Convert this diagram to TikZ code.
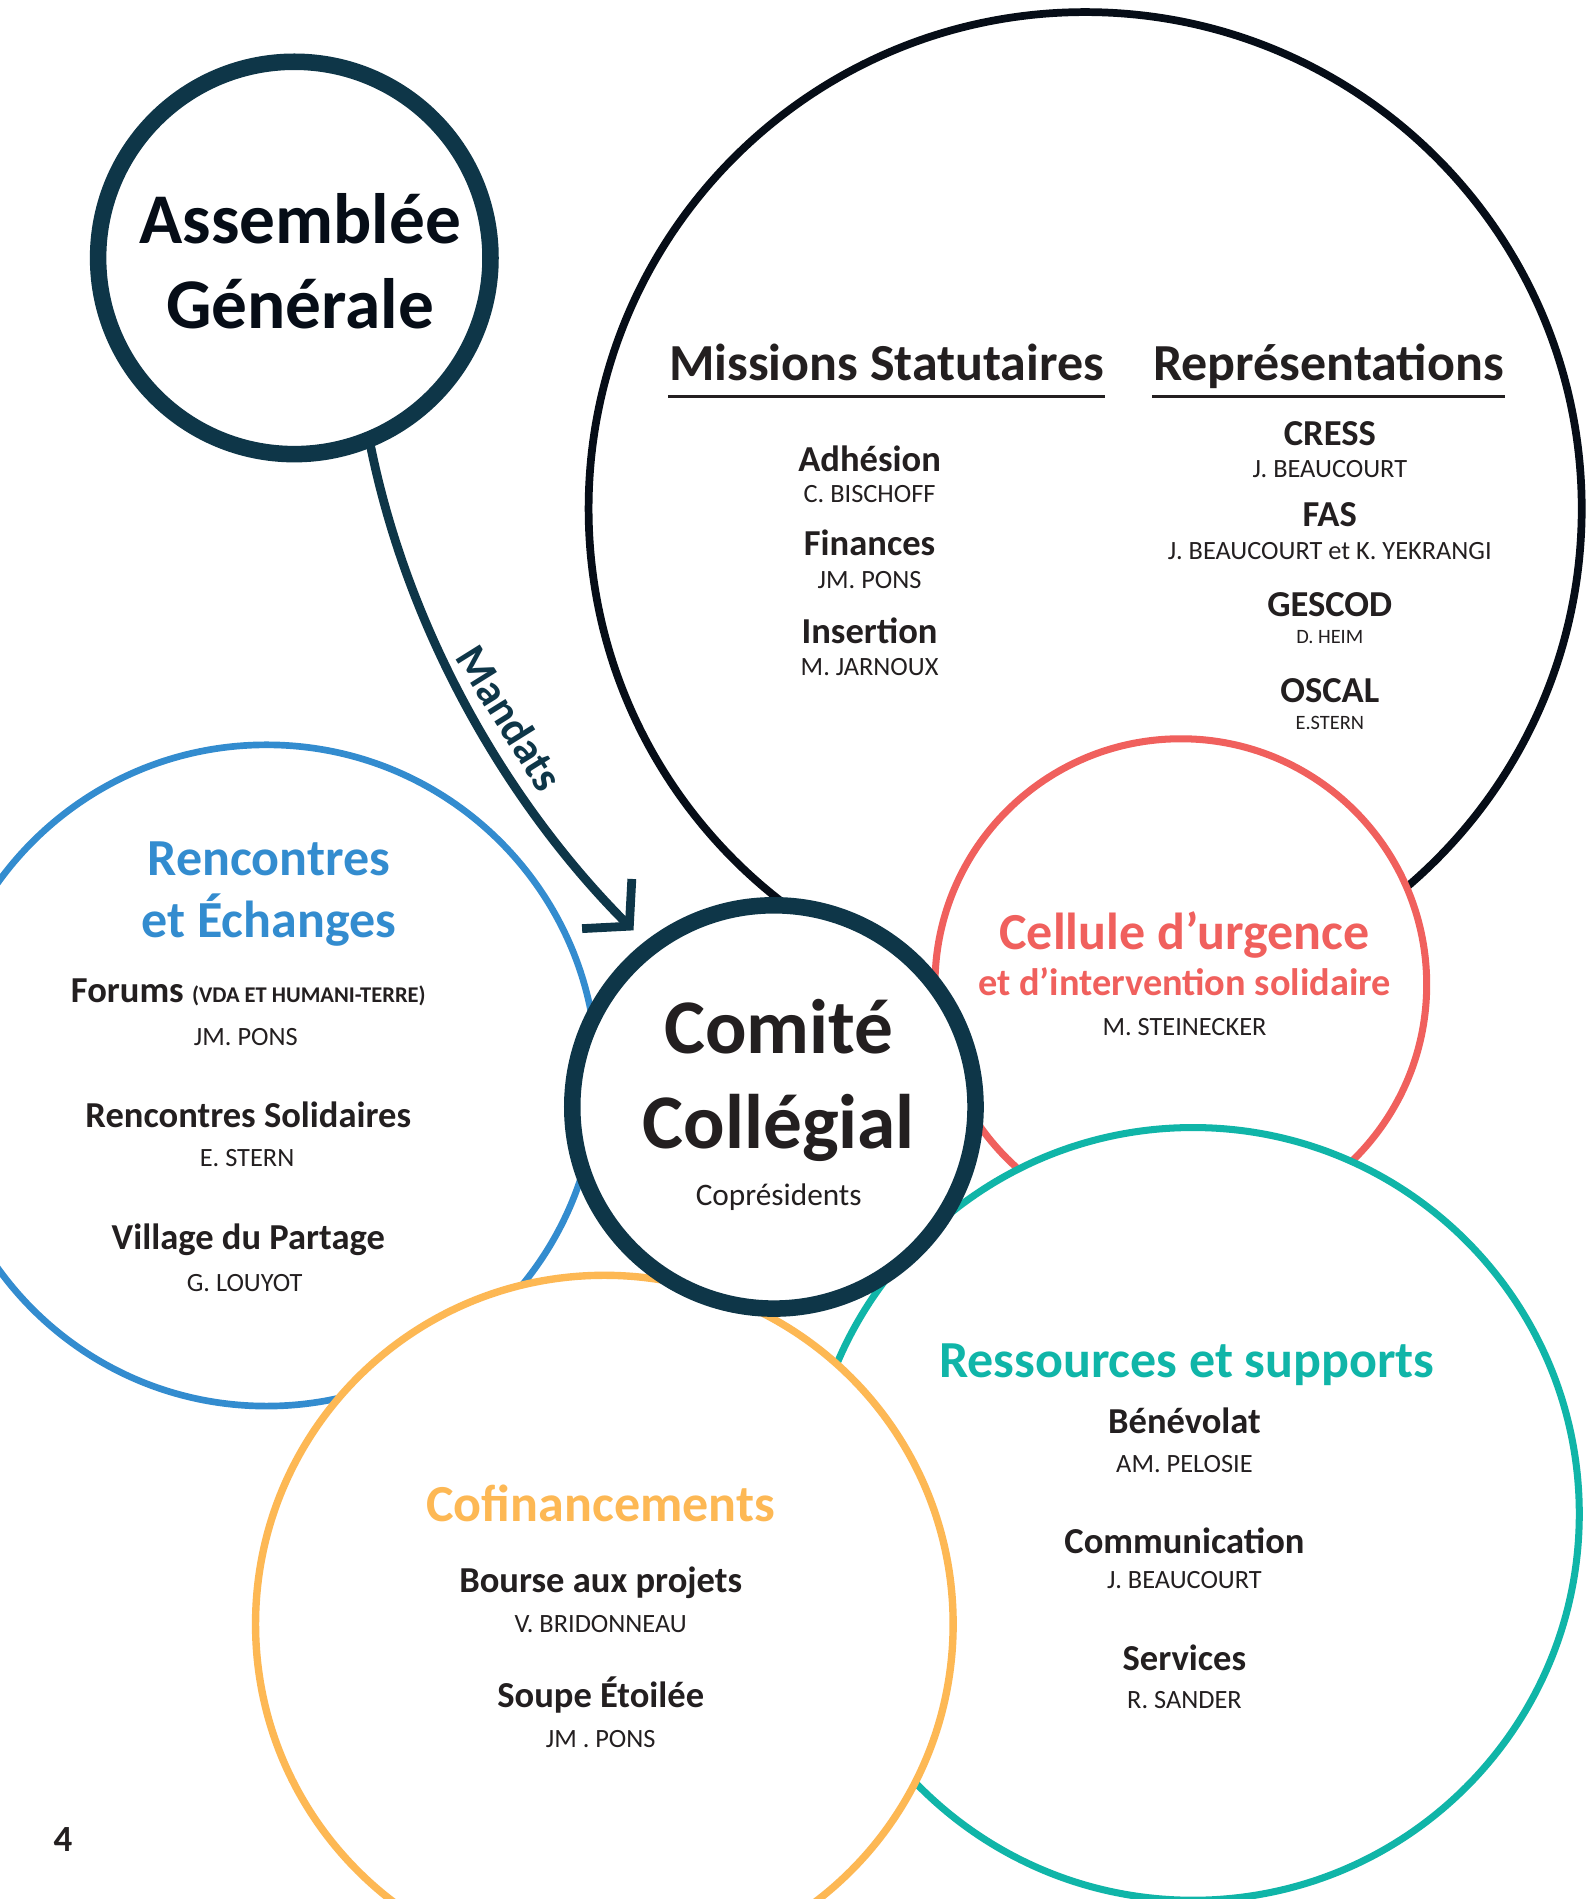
\documentclass[tikz,border=0pt]{standalone}
\usepackage{fontspec}
\setmainfont{Carlito}
\usetikzlibrary{arrows.meta}
\newdimen\upx
\upx=0.12113mm
\definecolor{marine}{HTML}{0E3648}
\definecolor{encre}{HTML}{231F20}
\definecolor{noir}{HTML}{060D17}
\definecolor{bleu}{HTML}{338CCF}
\definecolor{rouge}{HTML}{F0605D}
\definecolor{turquoise}{HTML}{10B5A8}
\definecolor{jaune}{HTML}{FDB854}
\tikzset{
  cercle/.style={circle, draw, fill=white, inner sep=0pt},
  titre/.style={anchor=base, inner sep=0pt, text=encre, font=\bfseries\fontsize{14.8}{18}\selectfont},
  rubrique/.style={anchor=base, inner sep=0pt, text=encre, font=\bfseries\fontsize{10.4}{12}\selectfont},
  nom/.style={anchor=base, inner sep=0pt, text=encre, font=\fontsize{7.5}{9}\selectfont},
  petitnom/.style={nom, font=\fontsize{5.8}{7}\selectfont},
  souligne/.style={encre, line width=0.9pt},
}
\begin{document}
\begin{tikzpicture}[x=0.12113mm, y=-0.12113mm]
		\useasboundingbox (0,0) rectangle (1311,1568);
		\fill[white] (0,0) rectangle (1311,1568);
		\clip (0,0) rectangle (1311,1568);
		% cercles
		\node[cercle, draw=noir, line width=2.2pt, minimum size=820\upx] (statut) at (896,420) {};
		\node[cercle, draw=rouge, line width=2pt, minimum size=406\upx] (urgence) at (975,813) {};
		\node[cercle, draw=turquoise, line width=2pt, minimum size=638\upx] (ressources) at (985,1250) {};
		\node[cercle, draw=bleu, line width=1.9pt, minimum size=546\upx] (rencontres) at (220,888) {};
		\node[cercle, draw=jaune, line width=2.1pt, minimum size=576\upx] (cofin) at (499,1341) {};
		\node[cercle, draw=marine, line width=4.7pt, minimum size=333\upx] (cc) at (639,914) {};
		\node[cercle, draw=marine, line width=4.7pt, minimum size=324\upx] (ag) at (243,213) {};
		%
		\draw[marine, line width=2.5pt, line cap=round, -{Straight Barb[length=9pt, width=20pt]}, shorten >=4.5pt] (ag.-68) .. controls (339,529) and (424,669) .. (cc.128.5);
		\node[text=marine, font=\bfseries\fontsize{12.5}{15}\selectfont, rotate=-58, inner sep=0pt] (mandats) at (421,593) {Mandats};
		%
		\node[anchor=base, inner sep=0pt, text=noir, font=\bfseries\fontsize{20.3}{24}\selectfont] (ag1) at (248,201) {Assemblée};
		\node[anchor=base, inner sep=0pt, text=noir, font=\bfseries\fontsize{20.3}{24}\selectfont] (ag2) at (248,271) {Générale};
		\node[anchor=base, inner sep=0pt, text=encre, font=\bfseries\fontsize{22}{26}\selectfont] (cc1) at (643,870) {Comité};
		\node[anchor=base, inner sep=0pt, text=encre, font=\bfseries\fontsize{22}{26}\selectfont] (cc2) at (643,948) {Collégial};
		\node[anchor=base, inner sep=0pt, text=encre, font=\fontsize{8.9}{11}\selectfont] (cc3) at (643,995) {Coprésidents};
		%
		\node[titre] (missions) at (732,314) {Missions Statutaires};
		\node[titre] (repr) at (1097,314) {Représentations};
		\draw[souligne] ([yshift=-4.5pt]missions.base west) -- ([yshift=-4.5pt]missions.base east);
		\draw[souligne] ([yshift=-4.5pt]repr.base west) -- ([yshift=-4.5pt]repr.base east);
		\node[rubrique] (adh) at (718,389) {Adhésion};
		\node[nom] (adhn) at (718,415) {C. BISCHOFF};
		\node[rubrique] (fin) at (718,459) {Finances};
		\node[nom] (finn) at (718,486) {JM. PONS};
		\node[rubrique] (ins) at (718,531) {Insertion};
		\node[nom] (insn) at (718,558) {M. JARNOUX};
		\node[rubrique] (cress) at (1098,368) {CRESS};
		\node[nom] (cressn) at (1098,394) {J. BEAUCOURT};
		\node[rubrique] (fas) at (1098,435) {FAS};
		\node[nom] (fasn) at (1098,462) {J. BEAUCOURT et K. YEKRANGI};
		\node[rubrique] (gescod) at (1098,509) {GESCOD};
		\node[petitnom] (gescodn) at (1098,531) {D. HEIM};
		\node[rubrique] (oscal) at (1098,580) {OSCAL};
		\node[petitnom] (oscaln) at (1098,602) {E.STERN};
		%
		\node[titre, text=bleu] (ren1) at (222,723) {Rencontres};
		\node[titre, text=bleu] (ren2) at (222,774) {et Échanges};
		\node[rubrique] (forums) at (205,828) {Forums {\fontsize{6.4}{8}\selectfont (VDA ET HUMANI-TERRE)}};
		\node[nom] (forumsn) at (203,863) {JM. PONS};
		\node[rubrique] (rsol) at (205,931) {Rencontres Solidaires};
		\node[nom] (rsoln) at (204,963) {E. STERN};
		\node[rubrique] (village) at (205,1032) {Village du Partage};
		\node[nom] (villagen) at (202,1066) {G. LOUYOT};
		%
		\node[titre, text=rouge] (urg1) at (978,784) {Cellule d’urgence};
		\node[anchor=base, inner sep=0pt, text=rouge, font=\bfseries\fontsize{10.9}{13}\selectfont] (urg2) at (978,822) {et d’intervention solidaire};
		\node[nom] (urgn) at (978,855) {M. STEINECKER};
		%
		\node[titre, text=turquoise] (res) at (980,1137) {Ressources et supports};
		\node[rubrique] (benev) at (978,1184) {Bénévolat};
		\node[nom] (benevn) at (978,1216) {AM. PELOSIE};
		\node[rubrique] (comm) at (978,1283) {Communication};
		\node[nom] (commn) at (978,1312) {J. BEAUCOURT};
		\node[rubrique] (serv) at (978,1379) {Services};
		\node[nom] (servn) at (978,1411) {R. SANDER};
		%
		\node[titre, text=jaune] (cof) at (496,1256) {Cofinancements};
		\node[rubrique] (bourse) at (496,1315) {Bourse aux projets};
		\node[nom] (boursen) at (496,1348) {V. BRIDONNEAU};
		\node[rubrique] (soupe) at (496,1410) {Soupe Étoilée};
		\node[nom] (soupen) at (496,1443) {JM . PONS};
		%
		\node[anchor=base, inner sep=0pt, text=encre, font=\bfseries\fontsize{10.5}{12}\selectfont] (page) at (52,1529) {4};
	\end{tikzpicture}
\end{document}
